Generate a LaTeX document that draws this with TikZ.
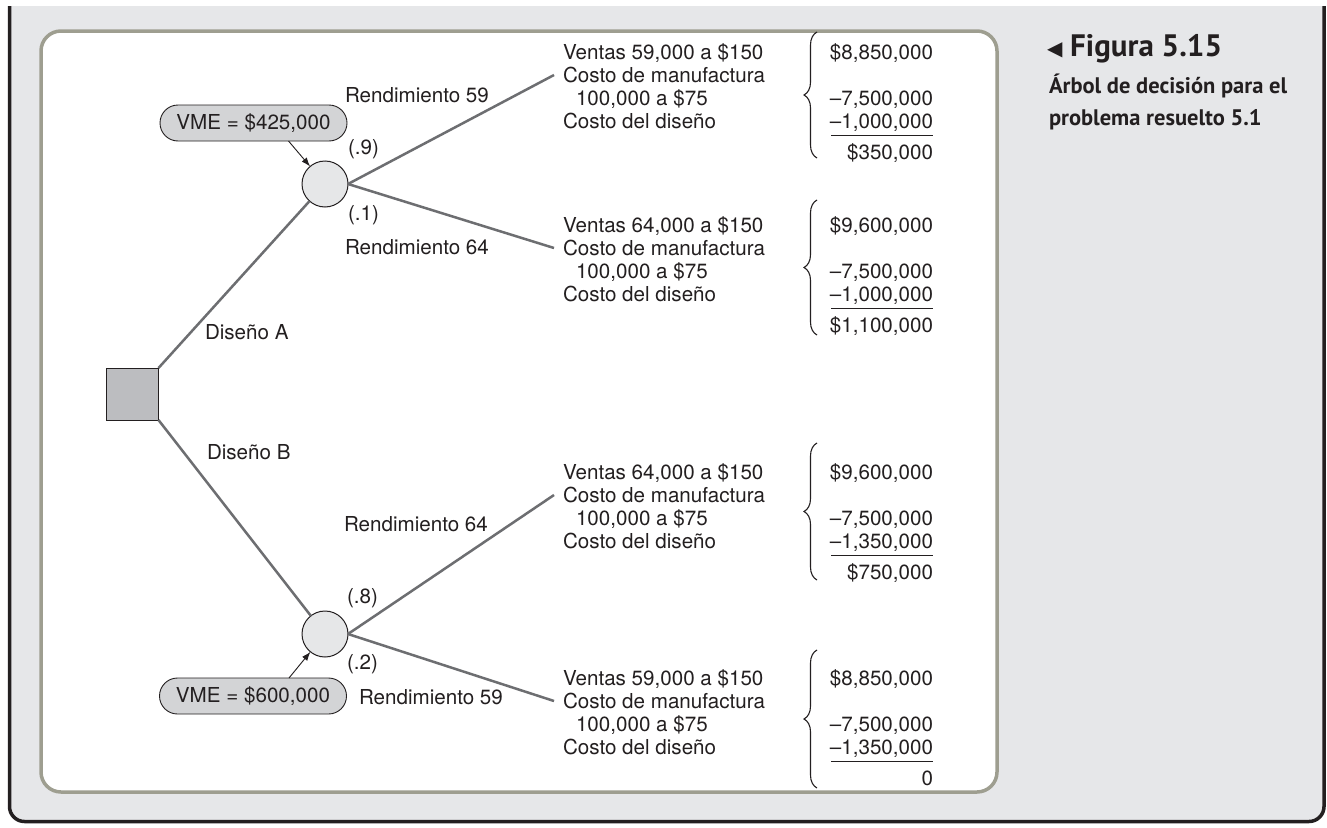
\documentclass[tikz,border=0pt]{standalone}
\usepackage{fontspec}
\setmainfont{TeX Gyre Heros}
\newfontfamily\capfont{PT Sans}
\newfontfamily\symfont{DejaVu Sans}
\usetikzlibrary{decorations.pathreplacing,arrows.meta}
\definecolor{panelgray}{HTML}{E6E7E9}
\definecolor{frameolive}{HTML}{9E9E90}
\definecolor{branchgray}{HTML}{6D6E71}
\definecolor{sqfill}{HTML}{BCBDC0}
\definecolor{circfill}{HTML}{E6E7E8}
\definecolor{vmefill}{HTML}{D3D4D6}
\definecolor{ink}{HTML}{231F20}
\newcommand\payblock[8]{%
  \node[lbl] (#1v) at (563,#2) {Ventas #3};
  \node[lbl] (#1m) at (563,#2+23.2) {Costo de manufactura};
  \node[lbl] (#1q) at (576,#2+46.4) {100,000 a \$75};
  \node[lbl] (#1d) at (563,#2+69.6) {Costo del diseño};
  \node[num] (#1a) at (933,#2) {#4};
  \node[num] (#1b) at (933,#2+46.4) {–7,500,000};
  \node[num] (#1c) at (933,#2+69.6) {#5};
  \node[num] (#1t) at (933,#2+100) {#6};
  \draw[line width=1pt,ink] (831,#2+76) -- (933,#2+76);
  \draw[bracestyle] (817,#8) -- (817,#7);
  \coordinate (#1e) at (554,#2+16);
}
\begin{document}
\begin{tikzpicture}[x=1pt,y=-1pt,
  every node/.style={inner sep=0pt,outer sep=0pt,text=ink,font=\fontsize{20.6}{23}\selectfont},
  lbl/.style={anchor=base west},
  num/.style={anchor=base east},
  branch/.style={draw=branchgray,line width=2.5pt},
  bracestyle/.style={decorate,decoration={brace,amplitude=13pt},line width=1.1pt,draw=ink},
  decbox/.style={draw=ink,line width=0.9pt,fill=sqfill,minimum size=52pt},
  chance/.style={circle,draw=ink,line width=1pt,fill=circfill,minimum size=46pt},
  vme/.style={draw=ink,line width=0.9pt,fill=vmefill,rounded corners=18pt,minimum width=187pt,minimum height=36pt},
  vmearrow/.style={draw=ink,line width=0.9pt,-{Latex[length=9pt,width=6.5pt]}},
  capstyle/.style={anchor=base west,font=\capfont\bfseries\fontsize{22.5}{30}\selectfont}
]
\useasboundingbox (0,0) rectangle (1327,827);
\fill[white] (0,0) rectangle (1327,827);
% outer gray panel with black bracket frame
\fill[panelgray,rounded corners=15pt] (9.5,6) rectangle (1324,821.5);
\fill[panelgray] (9.5,6) rectangle (1324,60);
\draw[ink,line width=3.5pt,rounded corners=15pt] (9.5,6) -- (9.5,821.5) -- (1324,821.5) -- (1324,6);
% inner white panel
\draw[frameolive,line width=3.5pt,fill=white,rounded corners=20pt] (41,31) rectangle (997,792);

% caption
\node[capstyle,font=\capfont\bfseries\fontsize{31}{36}\selectfont] (fig) at (1047,56) {\raisebox{1pt}{\symfont\fontsize{20}{22}\selectfont ◀} Figura 5.15};
\node[capstyle] (cap2) at (1049,93) {Árbol de decisión para el};
\node[capstyle] (cap3) at (1049,125) {problema resuelto 5.1};

% tree nodes
\node[decbox] (dec) at (132.5,394) {};
\node[chance] (c1) at (325,184) {};
\node[chance] (c2) at (325,634) {};
\node[vme] (v1) at (253.5,123) {VME = \$425,000};
\node[vme] (v2) at (253,696) {VME = \$600,000};

% payoff blocks
\payblock{A}{59}{59,000 a \$150}{\$8,850,000}{–1,000,000}{\$350,000}{32}{158}
\payblock{B}{232}{64,000 a \$150}{\$9,600,000}{–1,000,000}{\$1,100,000}{200}{335}
\payblock{C}{479}{64,000 a \$150}{\$9,600,000}{–1,350,000}{\$750,000}{443}{580}
\payblock{D}{685}{59,000 a \$150}{\$8,850,000}{–1,350,000}{0}{650}{788}

% connectors
\draw[branch] (dec.north east) -- (c1);
\draw[branch] (dec.south east) -- (c2);
\draw[branch] (c1.east) -- (Ae);
\draw[branch] (c1.east) -- (Be);
\draw[branch] (c2.east) -- (Ce);
\draw[branch] (c2.east) -- (De);
\draw[vmearrow] ([xshift=35pt]v1.south) -- (c1);
\draw[vmearrow] ([xshift=36pt]v2.north) -- (c2);

% labels
\node[lbl] (r1) at (345,102) {Rendimiento 59};
\node[lbl] (r2) at (345,254) {Rendimiento 64};
\node[lbl] (r3) at (344,531) {Rendimiento 64};
\node[lbl] (r4) at (359,704) {Rendimiento 59};
\node[lbl] (p1) at (348,154) {(.9)};
\node[lbl] (p2) at (348,220) {(.1)};
\node[lbl] (p3) at (347,603) {(.8)};
\node[lbl] (p4) at (347,669) {(.2)};
\node[lbl] (dA) at (205,339) {Diseño A};
\node[lbl] (dB) at (207,459) {Diseño B};
\end{tikzpicture}
\end{document}
